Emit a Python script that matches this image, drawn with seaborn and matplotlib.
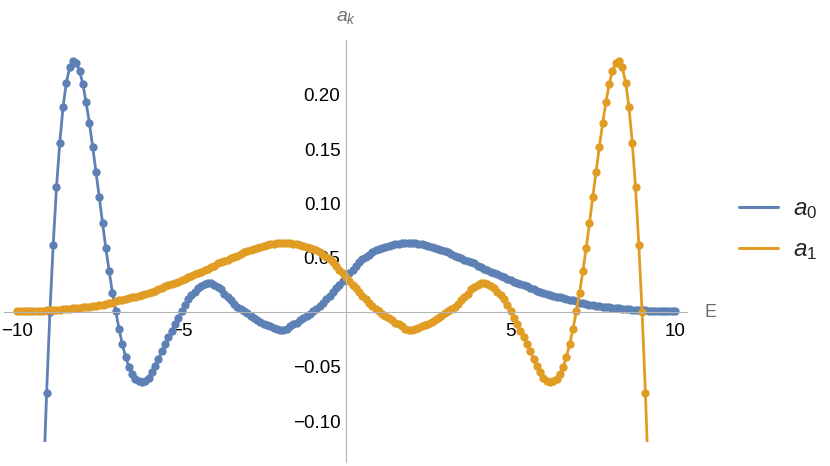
import numpy as np
import pandas as pd
import matplotlib
matplotlib.use("Agg")
import matplotlib.pyplot as plt
import seaborn as sns
from matplotlib.lines import Line2D
from matplotlib.patches import Rectangle
from matplotlib.ticker import FixedLocator

sns.set_theme(style="white")
plt.rcParams['font.family'] = ['Liberation Sans', 'DejaVu Sans']
plt.rcParams['mathtext.fontset'] = 'custom'
plt.rcParams['mathtext.it'] = 'Liberation Sans:italic'
plt.rcParams['mathtext.rm'] = 'Liberation Sans'

# ---- data ----
E_a0 = np.round(np.arange(-9.2, 10.0001, 0.1), 1)
a0 = [
    -0.160, -0.074, 0.000, 0.062, 0.115, 0.156, 0.189, 0.211, 0.225, 0.231,
    0.229, 0.222, 0.210, 0.193, 0.174, 0.152, 0.129, 0.106, 0.082, 0.059,
    0.038, 0.018, 0.001, -0.015, -0.029, -0.041, -0.050, -0.057, -0.061, -0.063,
    -0.064, -0.063, -0.060, -0.055, -0.049, -0.043, -0.036, -0.029, -0.023, -0.017,
    -0.011, -0.005, 0.001, 0.007, 0.012, 0.016, 0.019, 0.022, 0.024, 0.026,
    0.027, 0.027, 0.025, 0.023, 0.021, 0.017, 0.014, 0.011, 0.008, 0.005,
    0.003, 0.001, -0.001, -0.003, -0.005, -0.007, -0.009, -0.0105, -0.012, -0.013,
    -0.0145, -0.0155, -0.016, -0.016, -0.015, -0.013, -0.011, -0.0095, -0.0075, -0.0055,
    -0.0035, -0.0015, 0.001, 0.003, 0.006, 0.009, 0.012, 0.015, 0.019, 0.022,
    0.025, 0.029, 0.032, 0.036, 0.039, 0.043, 0.046, 0.049, 0.051, 0.053,
    0.055, 0.057, 0.058, 0.059, 0.060, 0.061, 0.062, 0.063, 0.063, 0.064,
    0.064, 0.064, 0.064, 0.064, 0.063, 0.063, 0.062, 0.061, 0.060, 0.059,
    0.058, 0.057, 0.056, 0.055, 0.054, 0.052, 0.051, 0.050, 0.048, 0.047,
    0.046, 0.045, 0.043, 0.042, 0.040, 0.039, 0.037, 0.036, 0.035, 0.033,
    0.032, 0.031, 0.030, 0.028, 0.027, 0.026, 0.025, 0.024, 0.022, 0.021,
    0.020, 0.019, 0.018, 0.017, 0.016, 0.015, 0.014, 0.014, 0.013, 0.012,
    0.011, 0.011, 0.010, 0.009, 0.009, 0.008, 0.007, 0.007, 0.006, 0.006,
    0.005, 0.005, 0.005, 0.004, 0.004, 0.004, 0.003, 0.003, 0.003, 0.002,
    0.002, 0.002, 0.002, 0.002, 0.001, 0.001, 0.001, 0.001, 0.001, 0.001,
    0.001, 0.001, 0.001,
]

E_a1 = np.round(np.arange(-10.0, 9.2001, 0.1), 1)
a1 = [
    0.001, 0.001, 0.001, 0.001, 0.001, 0.001, 0.001, 0.001, 0.001, 0.002,
    0.002, 0.002, 0.002, 0.002, 0.003, 0.003, 0.003, 0.004, 0.004, 0.004,
    0.005, 0.005, 0.005, 0.006, 0.006, 0.007, 0.007, 0.008, 0.009, 0.009,
    0.010, 0.011, 0.011, 0.012, 0.013, 0.014, 0.014, 0.015, 0.016, 0.017,
    0.018, 0.019, 0.020, 0.021, 0.022, 0.024, 0.025, 0.026, 0.027, 0.028,
    0.030, 0.031, 0.032, 0.033, 0.035, 0.036, 0.037, 0.039, 0.040, 0.042,
    0.043, 0.045, 0.046, 0.047, 0.048, 0.050, 0.051, 0.052, 0.054, 0.055,
    0.056, 0.057, 0.058, 0.059, 0.060, 0.061, 0.062, 0.063, 0.063, 0.064,
    0.064, 0.064, 0.064, 0.064, 0.063, 0.063, 0.062, 0.061, 0.060, 0.059,
    0.058, 0.057, 0.055, 0.053, 0.051, 0.049, 0.046, 0.043, 0.039, 0.036,
    0.032, 0.029, 0.025, 0.022, 0.019, 0.015, 0.012, 0.009, 0.006, 0.003,
    0.001, -0.0015, -0.0035, -0.0055, -0.0075, -0.0095, -0.011, -0.013, -0.015, -0.016,
    -0.016, -0.0155, -0.0145, -0.013, -0.012, -0.0105, -0.009, -0.007, -0.005, -0.003,
    -0.001, 0.001, 0.003, 0.005, 0.008, 0.011, 0.014, 0.017, 0.021, 0.023,
    0.025, 0.027, 0.027, 0.026, 0.024, 0.022, 0.019, 0.016, 0.012, 0.007,
    0.001, -0.005, -0.011, -0.017, -0.023, -0.029, -0.036, -0.043, -0.049, -0.055,
    -0.060, -0.063, -0.064, -0.063, -0.061, -0.057, -0.050, -0.041, -0.029, -0.015,
    0.001, 0.018, 0.038, 0.059, 0.082, 0.106, 0.129, 0.152, 0.174, 0.193,
    0.210, 0.222, 0.229, 0.231, 0.225, 0.211, 0.189, 0.156, 0.115, 0.062,
    0.000, -0.074, -0.160,
]

series_names = ['a0', 'a1']
legend_labels = [r'$a_0$', r'$a_1$']
colors = ['#5E81B5', '#E19C24']
x_ticks = [-10, -5, 5, 10]
x_tick_labels = ['\u221210', '\u22125', '5', '10']
y_ticks = [-0.10, -0.05, 0.05, 0.10, 0.15, 0.20]
y_tick_labels = ['\u22120.10', '\u22120.05', '0.05', '0.10', '0.15', '0.20']

df = pd.concat([
    pd.DataFrame({'E': E_a0, 'a': a0, 'series': series_names[0]}),
    pd.DataFrame({'E': E_a1, 'a': a1, 'series': series_names[1]}),
], ignore_index=True)

# ---- figure ----
fig = plt.figure(figsize=(8.3, 4.66), dpi=100)
ax = fig.add_axes([0, 0, 1, 1])
ax.set_facecolor('white')

sns.lineplot(data=df, x='E', y='a', hue='series', palette=colors,
             marker='o', markersize=6.0, markeredgewidth=0, linewidth=2.0,
             sort=False, estimator=None, legend=False, ax=ax)

ax.set_xlim(-10.517, 14.711)
ax.set_ylim(-0.14127, 0.28704)

# Mathematica-style plot range clipping
clip = Rectangle((-10.6, -0.1195), 21.2, 0.37, transform=ax.transData,
                 facecolor='none', edgecolor='none')
for ln in ax.lines:
    ln.set_clip_path(clip)

axis_gray = '#b3b3b3'
for s in ['top', 'right']:
    ax.spines[s].set_visible(False)
ax.spines['left'].set_position(('data', 0))
ax.spines['bottom'].set_position(('data', 0))
ax.spines['bottom'].set_bounds(-10.4, 10.36)
ax.spines['left'].set_bounds(-0.1377, 0.2503)
for s in ['left', 'bottom']:
    ax.spines[s].set_color(axis_gray)
    ax.spines[s].set_linewidth(0.8)

ax.xaxis.set_major_locator(FixedLocator(x_ticks))
ax.set_xticklabels(x_tick_labels)
ax.xaxis.set_minor_locator(FixedLocator([v for v in range(-10, 11) if v % 5 != 0]))
ax.yaxis.set_major_locator(FixedLocator(y_ticks))
ax.set_yticklabels(y_tick_labels)
ymin_ticks = [round(v, 2) for v in np.arange(-0.13, 0.2401, 0.01)]
ax.yaxis.set_minor_locator(FixedLocator([v for v in ymin_ticks
                                         if round(v * 100) % 5 != 0]))

ax.tick_params(which='both', direction='in', color=axis_gray, width=0.8,
               labelcolor='black', labelsize=13.5)
ax.tick_params(which='major', length=4.5)
ax.tick_params(which='minor', length=2.5)
ax.tick_params(axis='x', which='major', pad=8)
ax.tick_params(axis='y', which='major', pad=4)
ax.grid(False)
ax.set_xlabel('')
ax.set_ylabel('')

label_gray = '#707070'
ax.text(11.09, 0.0, 'E', ha='center', va='center', color=label_gray, fontsize=13)
ax.text(0.0, 0.2705, r'$a_k$', ha='center', va='center', color=label_gray, fontsize=14)

handles = [Line2D([], [], color=c, lw=2.2) for c in colors]
ax.legend(handles, legend_labels, loc='center left',
          bbox_to_anchor=(739.3 / 830, 1 - 230.3 / 466), bbox_transform=fig.transFigure,
          frameon=False, fontsize=17.5, handlelength=1.6, handletextpad=0.6,
          labelspacing=0.75, borderpad=0, borderaxespad=0)

fig.savefig('out.png', dpi=100, facecolor='white')
